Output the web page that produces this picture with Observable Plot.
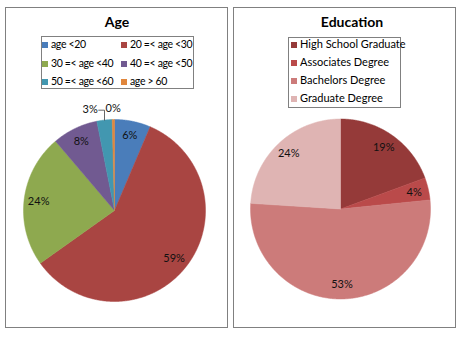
<!DOCTYPE html>
<html><head><meta charset="utf-8">
<script src="https://cdn.jsdelivr.net/npm/d3@7"></script>
<script src="https://cdn.jsdelivr.net/npm/@observablehq/plot@0.6"></script>
<style>
body{margin:0;background:#fff;font-family:Lato,"Open Sans",sans-serif;}
#root{position:relative;width:461px;height:346px;overflow:hidden;}
.panel{position:absolute;box-sizing:border-box;border:1px solid #808080;background:#fff;}
.title{position:absolute;font-weight:bold;font-size:14px;line-height:14px;color:#000;white-space:nowrap;transform:translateX(-50%);}
.legend{position:absolute;box-sizing:border-box;border:1px solid #808080;background:#fff;}
.item{position:absolute;font-size:11px;line-height:12px;white-space:nowrap;color:#000;}
.sw{display:inline-block;width:6px;height:6px;margin-right:3px;vertical-align:0px;}
.plotbox{position:absolute;left:0;top:0;}
</style></head><body><div id="root"></div>
<script>
// ---- data ----
const ageTitle = "Age";
const ageCategories = ["age <20", "20 =< age <30", "30 =< age <40", "40 =< age <50", "50 =< age <60", "age > 60"];
const ageValues = [6.4, 58.7, 23.6, 8.1, 2.7, 0.4];
const ageColors = ["#4A7DBA", "#A94542", "#8EA94F", "#715A91", "#4297B0", "#E0863C"];

const eduTitle = "Education";
const eduCategories = ["High School Graduate", "Associates Degree", "Bachelors Degree", "Graduate Degree"];
const eduValues = [19.4, 4.0, 52.6, 24.0];
const eduColors = ["#953A39", "#BA4A4A", "#CC7B7A", "#DFB4B3"];

// ---- layout ----
const layouts = [
  {title: ageTitle, categories: ageCategories, values: ageValues, colors: ageColors,
   left: 5, top: 7, width: 223, height: 321, titleX: 111, titleTop: 7,
   legend: {left: 35, top: 28, width: 153, height: 53, padL: 0, first: 7.3, rowH: 18.2, colW: 79, cols: 2,
            fontSize: 10.5, spacing: -0.35},
   cx: 108, cy: 202, R: 91},
  {title: eduTitle, categories: eduCategories, values: eduValues, colors: eduColors,
   left: 233, top: 7, width: 223, height: 321, titleX: 118, titleTop: 7,
   legend: {left: 54, top: 29, width: 113, height: 71, padL: 2, first: 6.3, rowH: 18, colW: 0, cols: 1,
            fontSize: 11, spacing: 0},
   cx: 106, cy: 200.5, R: 90}
];

const root = document.getElementById("root");

function drawPanel(cfg) {
  const el = document.createElement("div");
  el.className = "panel";
  Object.assign(el.style, {left: cfg.left + "px", top: cfg.top + "px", width: cfg.width + "px", height: cfg.height + "px"});
  root.appendChild(el);
  const W = cfg.width - 2, H = cfg.height - 2, R = cfg.R;

  const total = d3.sum(cfg.values);
  const arcs = d3.pie().sort(null).value(d => d)(cfg.values);

  // slice polygons
  const pts = [];
  arcs.forEach((a, i) => {
    const cat = cfg.categories[i];
    pts.push({x: 0, y: 0, cat});
    const n = Math.max(2, Math.ceil((a.endAngle - a.startAngle) / (Math.PI / 360)));
    for (let k = 0; k <= n; k++) {
      const t = a.startAngle + (a.endAngle - a.startAngle) * k / n;
      pts.push({x: Math.sin(t), y: Math.cos(t), cat});
    }
    pts.push({x: 0, y: 0, cat});
  });

  // labels
  const labels = [];
  const outside = [];
  arcs.forEach((a, i) => {
    const mid = (a.startAngle + a.endAngle) / 2;
    const pct = cfg.values[i] / total * 100;
    const text = Math.round(pct) + "%";
    if (pct >= 3.5) {
      labels.push({x: 0.84 * Math.sin(mid), y: 0.84 * Math.cos(mid), text});
    } else {
      const o = {x: 1.12 * Math.sin(mid), y: 1.12 * Math.cos(mid), x0: 1.12 * Math.sin(mid), text,
                 ex: Math.sin(mid), ey: Math.cos(mid)};
      outside.push(o);
      labels.push(o);
    }
  });
  const gap = 23 / R;
  for (let i = outside.length - 2; i >= 0; i--) {
    if (outside[i + 1].x - outside[i].x < gap) outside[i].x = outside[i + 1].x - gap;
  }
  const leaders = [];
  outside.forEach((o, j) => {
    if (Math.abs(o.x - o.x0) * R > 3) {
      const ly = o.y - 1 / R;
      leaders.push({x: o.x + 8.5 / R, y: ly, k: j});
      leaders.push({x: o.ex, y: ly, k: j});
      leaders.push({x: o.ex, y: o.ey, k: j});
    }
  });

  const chart = Plot.plot({
    width: W, height: H,
    marginLeft: 0, marginRight: 0, marginTop: 0, marginBottom: 0,
    x: {domain: [-cfg.cx / R, (W - cfg.cx) / R], axis: null},
    y: {domain: [-(H - cfg.cy) / R, cfg.cy / R], axis: null},
    color: {domain: cfg.categories, range: cfg.colors},
    style: {fontFamily: "Lato, 'Open Sans', sans-serif", background: "transparent", overflow: "visible"},
    marks: [
      Plot.line(pts, {x: "x", y: "y", z: "cat", fill: "cat", stroke: "cat", strokeWidth: 0.5, curve: "linear"}),
      Plot.line(leaders, {x: "x", y: "y", z: "k", stroke: "#404040", strokeWidth: 0.8}),
      Plot.text(labels, {x: "x", y: "y", text: "text", fontSize: 11, fill: "#111", textAnchor: "middle", lineAnchor: "middle"})
    ]
  });
  chart.classList.add("plotbox");
  chart.style.position = "absolute";
  chart.style.left = "0px";
  chart.style.top = "0px";
  el.appendChild(chart);

  const t = document.createElement("div");
  t.className = "title";
  t.textContent = cfg.title;
  t.style.left = cfg.titleX + "px";
  t.style.top = cfg.titleTop + "px";
  el.appendChild(t);

  const lg = cfg.legend;
  const box = document.createElement("div");
  box.className = "legend";
  Object.assign(box.style, {left: lg.left + "px", top: lg.top + "px", width: lg.width + "px", height: lg.height + "px"});
  cfg.categories.forEach((c, i) => {
    const col = i % lg.cols, row = Math.floor(i / lg.cols);
    const it = document.createElement("div");
    it.className = "item";
    it.style.left = (lg.padL + col * lg.colW) + "px";
    it.style.top = (lg.first - 6 + row * lg.rowH) + "px";
    it.style.fontSize = lg.fontSize + "px";
    it.style.letterSpacing = lg.spacing + "px";
    const sw = document.createElement("span");
    sw.className = "sw";
    sw.style.background = cfg.colors[i];
    it.appendChild(sw);
    it.appendChild(document.createTextNode(c));
    box.appendChild(it);
  });
  el.appendChild(box);
}

layouts.forEach(drawPanel);
</script>
</body></html>
